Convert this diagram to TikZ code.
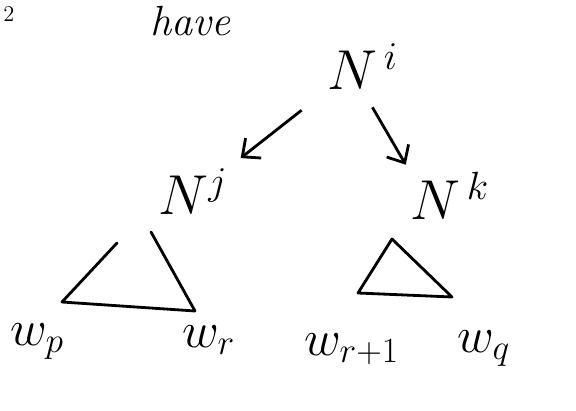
\RequirePackage{fix-cm}
\documentclass[tikz,border=0pt]{standalone}
\usepackage{amsmath,amssymb}
\usepackage{tikz}
\usetikzlibrary{arrows.meta}

\tikzset{
  lbl/.style={inner sep=0pt, anchor=base west, font=\fontsize{40}{42}\selectfont},
  wrd/.style={inner sep=0pt, anchor=base west, font=\fontsize{36}{38}\selectfont},
  arr/.style={line width=2pt, -{Straight Barb[length=10pt,width=18pt]}},
  tri/.style={line width=2pt, line join=round, line cap=round}
}

\begin{document}
\begin{tikzpicture}[x=0.025cm, y=-0.025cm]
\useasboundingbox (0,0) rectangle (576,411);

% scribbles at the top
\node[wrd, font=\fontsize{30}{32}\selectfont] (hd) at (150,36) {\itshape have};
\node[wrd, font=\fontsize{16}{18}\selectfont] (nr) at (3,22) {$2$};

% parent and children
\node[lbl] (Ni) at (327,90) {$N^{\,i}$};
\node[lbl] (Nj) at (158,215) {$N^{j}$};
\node[lbl] (Nk) at (410,220) {$N^{\,k}$};

\draw[arr, shorten <=23pt, shorten >=12pt] (Ni.south west) -- (Nj.north east);
\draw[arr, shorten <=14pt, shorten >=6pt] (Ni.south) -- (Nk.north west);

% subtree under N^j
\coordinate (jl) at (117,243);
\coordinate (jr) at (151,232);
\coordinate (jbl) at (62,302);
\coordinate (jbr) at (195,311);
\draw[tri] (jl) -- (jbl) -- (jbr) -- (jr);

% subtree under N^k
\coordinate (kt) at (392,239);
\coordinate (kbl) at (358,293);
\coordinate (kbr) at (452,297);
\draw[tri] (kt) -- (kbl) -- (kbr) -- cycle;

% leaves
\node[wrd] (wp) at (10,345) {$w_{p}$};
\node[wrd] (wr) at (182,347) {$w_{r}$};
\node[wrd] (ws) at (304,355) {$w_{r+1}$};
\node[wrd] (wq) at (457,352) {$w_{q}$};
\end{tikzpicture}
\end{document}
